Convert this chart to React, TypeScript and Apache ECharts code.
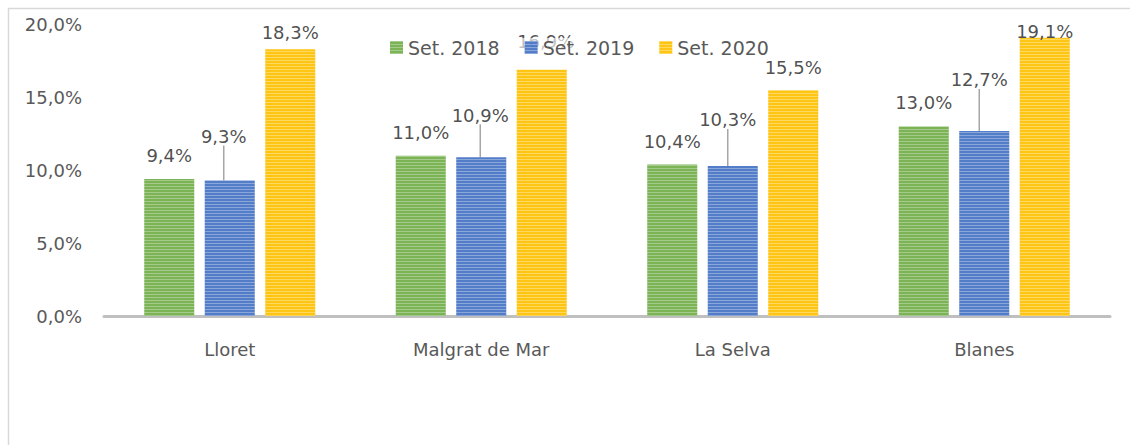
import React, { useEffect, useRef } from "react";
import * as echarts from "echarts";

const categories = ["Lloret", "Malgrat de Mar", "La Selva", "Blanes"];
const seriesNames = ["Set. 2018", "Set. 2019", "Set. 2020"];
const set2018 = [9.4, 11.0, 10.4, 13.0];
const set2019 = [9.3, 10.9, 10.3, 12.7];
const set2020 = [18.3, 16.9, 15.5, 19.1];
const yMin = 0;
const yMax = 20;
const yStep = 5;

const COLORS = ["#70AD47", "#4472C4", "#FFC000"];
// label displacement (style only), per series, per category: [dx, dy]
const LABEL_SHIFT = [
  [[0, -10], [0, -9], [0, -9], [0, -10]],
  [[-6, -30], [-1, -28], [-5, -32], [-5, -37]],
  [[0, -3], [4, -14], [0, -9], [0, 8]],
];

const FONT = "DejaVu Sans";
const fmt = (v: number) => v.toFixed(1).replace(".", ",") + "%";

export default function App() {
  const ref = useRef<HTMLDivElement>(null);
  useEffect(() => {
    if (!ref.current) return;
    const chart = echarts.init(ref.current, undefined, { renderer: "svg" });
    const values = [set2018, set2019, set2020];
    const series = values.map((vals, si) => ({
      name: seriesNames[si],
      type: "bar",
      data: vals,
      barWidth: 50,
      barGap: "21%",
      itemStyle: {
        color: COLORS[si],
        opacity: 0.92,
        decal: {
          symbol: "rect",
          symbolSize: 1,
          dashArrayX: [1, 0],
          dashArrayY: [1, 2],
          rotation: 0,
          color: "rgba(255,255,255,0.35)",
        },
      },
      label: {
        show: true,
        position: "top",
        distance: 5,
        color: "#404040",
        fontFamily: FONT,
        fontSize: 18,
        formatter: (p: any) => fmt(p.value),
      },
      labelLine: {
        show: si === 1,
        lineStyle: { color: "#A6A6A6", width: 1.5 },
      },
      labelLayout: (params: any) => {
        const s = LABEL_SHIFT[si][params.dataIndex];
        return { dx: s[0], dy: s[1] };
      },
    }));

    chart.setOption({
      animation: false,
      textStyle: { fontFamily: FONT },
      grid: { left: 104, right: 20, top: 24.6, bottom: 129, containLabel: false },
      legend: {
        data: seriesNames,
        left: 390,
        top: 38,
        itemWidth: 13,
        itemHeight: 13,
        itemGap: 25,
        padding: 0,
        icon: "rect",
        backgroundColor: "rgba(255,255,255,0.65)",
        textStyle: { color: "#595959", fontFamily: FONT, fontSize: 19 },
      },
      xAxis: {
        type: "category",
        data: categories,
        axisLine: { lineStyle: { color: "#BFBFBF", width: 3 } },
        axisTick: { show: false },
        axisLabel: { color: "#595959", fontFamily: FONT, fontSize: 18, margin: 24 },
      },
      yAxis: {
        type: "value",
        min: yMin,
        max: yMax,
        interval: yStep,
        axisLine: { show: false },
        axisTick: { show: false },
        splitLine: { show: false },
        axisLabel: {
          color: "#595959",
          fontFamily: FONT,
          fontSize: 18,
          margin: 22,
          formatter: (v: number) => fmt(v),
        },
      },
      graphic: [
        { type: "line", shape: { x1: 8, y1: 8.5, x2: 1130, y2: 8.5 }, style: { stroke: "#D9D9D9", lineWidth: 1.5 } },
        { type: "line", shape: { x1: 8.5, y1: 8, x2: 8.5, y2: 445 }, style: { stroke: "#D9D9D9", lineWidth: 1.5 } },
      ],
      series,
    });
    return () => chart.dispose();
  }, []);
  return (
    <div
      ref={ref}
      style={{ position: "absolute", left: 0, top: 0, width: 1130, height: 445, background: "#fff" }}
    />
  );
}
